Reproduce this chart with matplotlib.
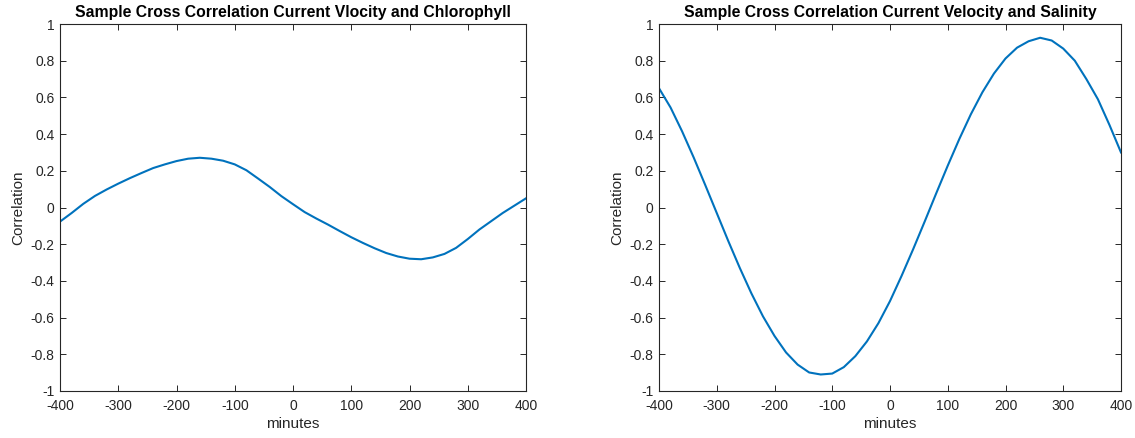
import numpy as np
import matplotlib.pyplot as plt

plt.rcParams['font.family'] = ['Liberation Sans', 'DejaVu Sans']
plt.rcParams['axes.unicode_minus'] = False

# lag in minutes, every 20 minutes
lags = np.arange(-400, 401, 20)

corr_chl = [-0.077, -0.03, 0.02, 0.063, 0.098, 0.13, 0.16, 0.188, 0.215, 0.235,
            0.253, 0.266, 0.271, 0.266, 0.255, 0.235, 0.203, 0.158, 0.112, 0.062,
            0.018, -0.025, -0.06, -0.093, -0.128, -0.162, -0.193, -0.222, -0.248, -0.267,
            -0.279, -0.282, -0.272, -0.253, -0.22, -0.172, -0.12, -0.075, -0.03, 0.01,
            0.05]

corr_sal = [0.65, 0.545, 0.415, 0.273, 0.123, -0.03, -0.183, -0.33, -0.468, -0.593,
            -0.70, -0.79, -0.856, -0.899, -0.91, -0.905, -0.87, -0.81, -0.73, -0.63,
            -0.51, -0.373, -0.228, -0.077, 0.077, 0.228, 0.373, 0.508, 0.628, 0.73,
            0.812, 0.871, 0.906, 0.925, 0.91, 0.866, 0.80, 0.70, 0.59, 0.45,
            0.30]

titles = ['Sample Cross Correlation Current Vlocity and Chlorophyll',
          'Sample Cross Correlation Current Velocity and Salinity']

fig = plt.figure(figsize=(11.35, 4.38), dpi=100)
ax1 = fig.add_axes([60/1135, 47/438, 466/1135, 367/438])
ax2 = fig.add_axes([659/1135, 47/438, 462/1135, 367/438])

grey = '#262626'
for ax, vals, title in [(ax1, corr_chl, titles[0]), (ax2, corr_sal, titles[1])]:
    ax.plot(lags, vals, color='#0072BD', lw=1.5)
    ax.set_xlim(-400, 400)
    ax.set_ylim(-1, 1)
    ax.set_xticks(np.arange(-400, 401, 100))
    ax.set_yticks(np.arange(-1, 1.01, 0.2))
    ax.set_yticklabels(['-1', '-0.8', '-0.6', '-0.4', '-0.2', '0', '0.2', '0.4', '0.6', '0.8', '1'])
    ax.tick_params(direction='in', top=True, right=True, length=4, width=0.7,
                   colors=grey, labelsize=10)
    ax.tick_params(axis='x', pad=6)
    ax.tick_params(axis='y', pad=4)
    for s in ax.spines.values():
        s.set_color(grey)
        s.set_linewidth(0.8)
    ax.set_title(title, fontsize=11.3, fontweight='bold', color='black', pad=5)
    ax.set_xlabel('minutes', fontsize=11, color=grey, labelpad=3)
    ax.set_ylabel('Correlation', fontsize=11, color=grey, labelpad=4)

fig.savefig('out.png', dpi=100)
